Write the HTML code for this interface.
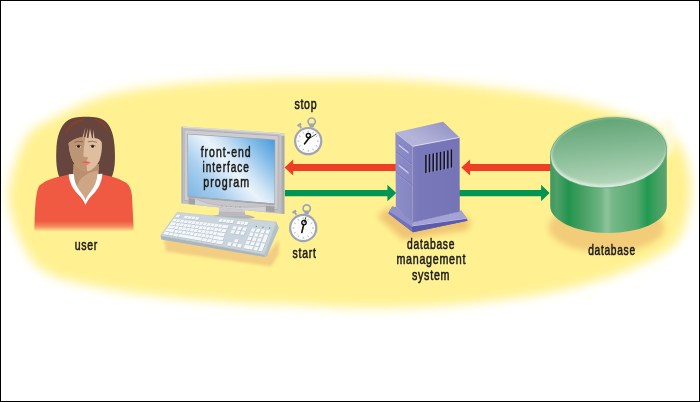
<!DOCTYPE html>
<html><head><meta charset="utf-8"><title>DBMS diagram</title>
<style>
html,body{margin:0;padding:0;background:#fff;}
body{width:700px;height:402px;overflow:hidden;}
svg{display:block;will-change:transform}
text{font-family:"Liberation Sans",sans-serif;fill:#1a1a1a;stroke:#1a1a1a;stroke-width:0.55px;}
</style></head><body>
<svg width="700" height="402" viewBox="0 0 700 402">
<defs>
<filter id="blurY" x="-10%" y="-20%" width="120%" height="140%"><feGaussianBlur stdDeviation="5.2"/></filter>
<filter id="blurS" x="-30%" y="-50%" width="160%" height="200%"><feGaussianBlur stdDeviation="3"/></filter>
<filter id="blur15" x="-20%" y="-50%" width="140%" height="200%"><feGaussianBlur stdDeviation="1.6"/></filter>
<filter id="blur07" x="-5%" y="-5%" width="110%" height="110%"><feGaussianBlur stdDeviation="0.8"/></filter>
<filter id="blur1" x="-20%" y="-20%" width="140%" height="140%"><feGaussianBlur stdDeviation="1"/></filter>
<linearGradient id="shirtFade" x1="0" y1="0" x2="0" y2="1" gradientUnits="objectBoundingBox">
 <stop offset="0" stop-color="#f05a42"/><stop offset="0.81" stop-color="#f05a42"/><stop offset="0.9" stop-color="#f28a5a"/><stop offset="0.97" stop-color="#fbd48a"/><stop offset="1" stop-color="#fff191" stop-opacity="0"/>
</linearGradient>
<linearGradient id="screenG" gradientUnits="userSpaceOnUse" x1="194.2" y1="201.5" x2="269.3" y2="135.1">
 <stop offset="0" stop-color="#80b8e5"/><stop offset="0.25" stop-color="#a8cfee"/><stop offset="0.4" stop-color="#d2e6f6"/><stop offset="0.5" stop-color="#eaf3fa"/><stop offset="0.6" stop-color="#d0e5f5"/><stop offset="0.8" stop-color="#8ac0e9"/><stop offset="1" stop-color="#4a9cdd"/>
</linearGradient>
<linearGradient id="frameG" x1="0" y1="0" x2="1" y2="0">
 <stop offset="0" stop-color="#a7a7a9"/><stop offset="0.5" stop-color="#c9c9cb"/><stop offset="1" stop-color="#b9b9bb"/>
</linearGradient>
<linearGradient id="cylSide" gradientUnits="userSpaceOnUse" x1="550" y1="0" x2="666" y2="0">
 <stop offset="0" stop-color="#3f995f"/><stop offset="0.06" stop-color="#4ea169"/><stop offset="0.16" stop-color="#22944e"/><stop offset="0.3" stop-color="#4aa266"/><stop offset="0.44" stop-color="#6fb585"/><stop offset="0.49" stop-color="#8ec49c"/><stop offset="0.54" stop-color="#74b888"/><stop offset="0.75" stop-color="#55a86f"/><stop offset="0.84" stop-color="#209a50"/><stop offset="0.93" stop-color="#46a064"/><stop offset="1" stop-color="#5aa471"/>
</linearGradient>
<linearGradient id="cylTop" gradientUnits="userSpaceOnUse" x1="0" y1="118" x2="0" y2="186">
 <stop offset="0" stop-color="#62a476"/><stop offset="0.5" stop-color="#88bd97"/><stop offset="1" stop-color="#b6d7bc"/>
</linearGradient>
<linearGradient id="srvTop" gradientUnits="userSpaceOnUse" x1="443" y1="122" x2="428" y2="146">
 <stop offset="0" stop-color="#9797c8"/><stop offset="1" stop-color="#b4b4da"/>
</linearGradient>
<linearGradient id="srvRight" gradientUnits="userSpaceOnUse" x1="412" y1="0" x2="460" y2="0">
 <stop offset="0" stop-color="#7e7ec0"/><stop offset="0.12" stop-color="#7878bb"/><stop offset="1" stop-color="#7474b6"/>
</linearGradient>
<linearGradient id="srvLeft" gradientUnits="userSpaceOnUse" x1="395" y1="0" x2="413" y2="0">
 <stop offset="0" stop-color="#8e8ec9"/><stop offset="1" stop-color="#8484c2"/>
</linearGradient>
<linearGradient id="neckG" x1="0" y1="0" x2="1" y2="0">
 <stop offset="0" stop-color="#c7c7c9"/><stop offset="0.5" stop-color="#dcdcde"/><stop offset="1" stop-color="#b5b5b7"/>
</linearGradient>
</defs>
<rect x="0" y="0" width="700" height="402" fill="#fff"/>
<path d="M8.5,196.0 C8.5,177.8 18.1,152.7 25.0,140.0 C31.9,127.3 37.5,127.1 50.0,120.0 C62.5,112.9 83.3,102.9 100.0,97.5 C116.7,92.1 133.3,90.0 150.0,87.5 C166.7,85.0 183.3,83.8 200.0,82.5 C216.7,81.2 233.3,80.6 250.0,80.0 C266.7,79.4 283.3,79.2 300.0,79.0 C316.7,78.8 333.3,78.3 350.0,78.5 C366.7,78.7 383.3,79.2 400.0,80.0 C416.7,80.8 433.3,82.0 450.0,83.5 C466.7,85.0 483.3,86.9 500.0,89.0 C516.7,91.1 533.3,92.9 550.0,96.0 C566.7,99.1 583.3,102.7 600.0,107.5 C616.7,112.3 636.7,118.8 650.0,125.0 C663.3,131.2 673.2,134.2 680.0,145.0 C686.8,155.8 691.0,174.7 691.0,190.0 C691.0,205.3 686.8,225.3 680.0,237.0 C673.2,248.7 663.3,252.8 650.0,260.0 C636.7,267.2 616.7,274.6 600.0,280.0 C583.3,285.4 566.7,289.2 550.0,292.5 C533.3,295.8 516.7,297.9 500.0,300.0 C483.3,302.1 466.7,303.8 450.0,305.0 C433.3,306.2 416.7,307.1 400.0,307.5 C383.3,307.9 366.7,307.9 350.0,307.5 C333.3,307.1 316.7,305.7 300.0,305.0 C283.3,304.3 266.7,304.3 250.0,303.5 C233.3,302.7 216.7,301.4 200.0,300.0 C183.3,298.6 166.7,297.1 150.0,295.0 C133.3,292.9 116.7,290.9 100.0,287.5 C83.3,284.1 62.5,280.8 50.0,274.5 C37.5,268.2 31.9,262.6 25.0,249.5 C18.1,236.4 8.5,214.2 8.5,196.0Z" fill="#fff191" filter="url(#blurY)"/>
<g filter="url(#blurS)" fill="#f1c877" opacity="0.9">


<ellipse cx="606.5" cy="227.5" rx="58" ry="25"/>
</g>
<g id="woman">
<path d="M60,178.5 C56.6,172 55.9,161 56.3,151 C56.6,137 60,125.5 68,120.2 C73,117.2 80,116.5 86,116.8 C92,116.5 99,117.2 104,120.2 C111.5,125.5 114.4,137 114.8,150 C115.4,162 114.6,172 111,178.5 Z" fill="#65453d"/>
<path d="M65.2,132.2 C67.6,124.6 74.5,119.8 83.5,119 L83.5,121.2 C76,122.2 70.2,126.4 67.2,133 Z" fill="#84402f"/>
<path d="M94.6,118.8 C101,119.6 106,123.6 107.8,129.8 L105.8,130.2 C104,125.2 100,122 94.6,121 Z" fill="#84402f"/>
<path d="M73.6,164 L73.6,173 L72.6,174.3 C73,181.5 75.4,187.8 79.2,192.3 C81.6,195.3 83.6,198 85.5,201.8 C87.4,198 89.4,195.3 91.8,192.3 C95.6,187.8 98,181.5 98.6,174.3 L98.4,164 Z" fill="#cfa685"/>
<path d="M73.6,164 L98.6,164 L99,170.5 C93,171 86.5,173.5 81.5,178 C78.5,181 77,185 76.5,189.5 L72.4,180 Z" fill="#b98f6e"/>
<path d="M68.6,143.2 C69.4,152 71,160 76.4,166 C80,169.6 84,171.2 87.2,171.2 C92,170.6 96,167 99.6,160.2 C101.7,153 102.3,148 101.8,142.4 C100.5,140 98.5,138.6 96,138.3 L81,137.4 C76,138 71,140.6 68.6,143.2 Z" fill="#dfbd9f"/>
<path d="M68.6,143.2 C69.4,152 71,160 76.4,166 C80,169.6 84,171.2 87.2,171.2 C86.6,167 86.4,163 86.6,160.4 L88.3,157.6 C86.5,157.2 84.8,157 83.4,156.6 C83.6,150 84.5,143 85.2,137.3 L81,137.4 C76,138 71,140.6 68.6,143.2 Z" fill="#bc9574"/>
<path d="M82,138.4 L85.5,127 L83.7,138.4 Z" fill="#c9a283"/><path d="M85,138.4 L88,128 L86.7,138.4 Z M88.4,138.4 L90,128.5 L92,138.4 Z M93,138.4 L93.1,129.5 L94.6,138.4 Z" fill="#e2c2a4"/>
<ellipse cx="78.4" cy="146.5" rx="2.9" ry="1.25" fill="#dcc3b0"/>
<ellipse cx="92.6" cy="146.5" rx="2.9" ry="1.25" fill="#ecd8c6"/>
<circle cx="78.5" cy="146.4" r="1.45" fill="#241614"/>
<circle cx="92.6" cy="146.4" r="1.45" fill="#241614"/>
<path d="M75.4,146.2 Q78.4,144.1 81.4,145.9" stroke="#5a3a2e" stroke-width="0.6" fill="none"/>
<path d="M89.6,145.9 Q92.6,144.1 95.7,146.2" stroke="#5a3a2e" stroke-width="0.6" fill="none"/>
<path d="M74.4,142.4 Q78.6,140.4 83,141.8" stroke="#7a5444" stroke-width="0.7" fill="none"/>
<path d="M87.8,141.8 Q92.5,140.4 97,142.4" stroke="#7a5444" stroke-width="0.7" fill="none"/>
<path d="M81.3,162.6 Q83.5,161 86,161.6 Q88.5,161 90.9,162.6 Q86,163.4 81.3,162.6 Z" fill="#d45c4a"/>
<path d="M81.3,162.6 Q86,163.4 90.9,162.6 Q88,165.4 86,165.3 Q83.6,165.3 81.3,162.6 Z" fill="#ea8272"/>
<path d="M46,181 C55,177 63,176 69.8,174.5 L85.5,204.6 L102,174.5 C110,176 118,178 124.7,182 C129,184 131,188 132,196 L133.8,232 L34.2,232 L35,210 C36,196 37,188 40,185 Z" fill="url(#shirtFade)"/>
<path d="M68.6,174.6 C70,174 72,173.9 73.8,174.3 C74.2,181 76.5,187 80.2,191.4 C82.6,194.4 84.5,197 85.5,200.2 C86.5,197 88.4,194.4 90.8,191.4 C94.5,187 97,181 97.4,174.3 C99,173.8 100.6,173.6 102.4,173.8 C101.8,182 98.5,189 92.8,194.6 C89.8,197.6 87.2,200.6 85.5,204.8 C83.8,200.6 81.2,197.6 78.2,194.6 C72.5,189 69.3,182 68.6,174.6 Z" fill="#ffffff"/>
</g>
<text x="86.4" y="250.4" font-size="14.6" text-anchor="middle" textLength="23.4" lengthAdjust="spacingAndGlyphs" letter-spacing="1">user</text>
<g id="monitor">
<path d="M209,217.5 C212,214.5 224,214.2 232,214.2 C242,214.2 252,214.6 255,217.8 C252,219.5 212,219.5 209,217.5 Z" fill="#b3b3b7"/>
<path d="M219.2,206.5 L244.6,207.2 L245.2,215.8 L218.8,215.2 Z" fill="#cbcbcf"/>
<path d="M218.9,211.5 L245,212.3 L245.2,215.8 L218.8,215.2 Z" fill="#b9b9bd"/>
<path d="M280.6,132.9 L284.4,133.5 L284.3,214.0 L280.1,213.8 Z" fill="#b6b6ba"/>
<path d="M280.6,132.9 L284.4,133.5 L283.6,136 L280.6,135.5 Z" fill="#d6d6da"/>
<path d="M282.4,136 L284.4,136 L284.3,214.0 L282.4,213.9 Z" fill="#a9a9ad"/>
<path d="M181.60,126.40 L280.60,132.90 L280.10,213.80 L181.60,203.60Z" fill="#c0c0c4"/>
<path d="M181.6,126.4 L280.6,132.9 L280.2,134.2 L182.2,127.8 Z" fill="#dcdce0"/>
<path d="M181.6,126.4 L182.6,127.2 L182.6,203.2 L181.6,203.5 Z" fill="#a6a6aa"/>
<path d="M184.29,129.84 L278.08,135.97 L277.71,209.52 L184.37,200.41Z" fill="none" stroke="#a8a8ac" stroke-width="0.7"/>
<path d="M184.61,130.25 L277.78,136.33 L277.42,209.01 L184.70,200.03Z" fill="#cdcdd1"/>
<path d="M187.36,133.78 L275.20,139.47 L274.97,204.62 L187.54,196.76Z" fill="#a2a2a6"/>
<path d="M188.00,134.60 L274.60,140.20 L274.40,203.60 L188.20,196.00Z" fill="url(#screenG)"/>
<path d="M188.2,196.0 L274.4,203.6 L274.5,205.4 L188.3,197.8 Z" fill="#a7a7ab"/>
<path d="M188.3,197.8 L274.5,205.4 L274.8,212.8 L265.8,212.2 L188.4,204.3 Z" fill="#c6c6ca"/>
<path d="M195,198.6 C210,205.8 232,208.6 265.8,206.4 L265.8,211.6 L195,204.6 Z" fill="#d2d2d6"/>
<path d="M195,198.6 C210,205.8 232,208.6 265.8,206.4" fill="none" stroke="#b0b0b4" stroke-width="0.6"/>
<path d="M188.6,198.2 L195,198.8 L195,204.6 L188.6,204.1 Z" fill="#a2a2a6"/>
<path d="M265.8,205.7 L274.6,206.4 L274.7,212.3 L265.8,211.6 Z" fill="#a2a2a6"/>
<g fill="#9a9a9e"><circle cx="222" cy="205.9" r="0.55"/><circle cx="226.5" cy="206.2" r="0.55"/><circle cx="231" cy="206.5" r="0.55"/><circle cx="235.5" cy="206.7" r="0.55"/><circle cx="240" cy="206.9" r="0.55"/></g>
</g>
<text x="226.2" y="157.3" font-size="14.6" text-anchor="middle" textLength="51" lengthAdjust="spacingAndGlyphs" letter-spacing="1.4">front-end</text>
<text x="226.2" y="172.2" font-size="14.6" text-anchor="middle" textLength="47.4" lengthAdjust="spacingAndGlyphs" letter-spacing="1.4">interface</text>
<text x="226.7" y="186.9" font-size="14.6" text-anchor="middle" textLength="47" lengthAdjust="spacingAndGlyphs" letter-spacing="1.4">program</text>
<g id="keyboard">
<path d="M164,238 L268,253 L279,240 L279,254 L271,266.5 L166,251.5 Z" fill="#f2cd82" filter="url(#blur15)"/>
<path d="M160.60,235.60 L264.40,254.40 L265.00,257.00 L161.20,239.40Z" fill="#a9b5bf"/>
<path d="M276.40,221.90 L278.90,228.10 L266.60,256.90 L264.40,254.40Z" fill="#b4c0ca"/>
<path d="M177.00,212.40 L276.40,221.90 L264.40,254.40 L160.60,235.60Z" fill="#c9d4dd" stroke="#b7c3cd" stroke-width="0.5" stroke-linejoin="round"/>
<path d="M176.97,214.64 L180.46,215.00 L178.74,217.52 L175.23,217.13Z M184.99,215.73 L188.29,216.07 L186.60,218.67 L183.29,218.30Z M188.76,216.12 L192.05,216.46 L190.38,219.10 L187.07,218.73Z M192.52,216.51 L195.82,216.86 L194.16,219.54 L190.85,219.16Z M196.29,216.91 L199.58,217.25 L197.95,219.97 L194.64,219.59Z M219.73,218.78 L223.02,219.12 L221.49,222.06 L218.19,221.69Z M223.49,219.16 L226.78,219.50 L225.27,222.49 L221.96,222.11Z M227.25,219.55 L230.54,219.89 L229.05,222.91 L225.74,222.54Z M231.01,219.94 L234.30,220.28 L232.83,223.33 L229.52,222.96Z M237.75,220.93 L241.04,221.27 L239.60,224.40 L236.29,224.03Z M241.51,221.32 L244.80,221.66 L243.38,224.83 L240.07,224.45Z M245.27,221.71 L248.56,222.05 L247.16,225.25 L243.85,224.88Z M173.73,218.80 L177.05,219.20 L175.21,221.87 L171.88,221.44Z M177.52,219.25 L180.84,219.65 L179.02,222.37 L175.69,221.94Z M181.31,219.71 L184.63,220.10 L182.83,222.86 L179.50,222.43Z M185.11,220.16 L188.42,220.56 L186.64,223.35 L183.31,222.92Z M188.90,220.61 L192.22,221.01 L190.46,223.84 L187.12,223.41Z M192.69,221.07 L196.01,221.46 L194.27,224.34 L190.93,223.91Z M196.48,221.52 L199.80,221.92 L198.08,224.83 L194.74,224.40Z M200.27,221.97 L203.59,222.37 L201.89,225.32 L198.55,224.89Z M204.07,222.42 L207.39,222.82 L205.70,225.82 L202.36,225.38Z M207.86,222.88 L211.18,223.27 L209.51,226.31 L206.17,225.88Z M211.65,223.33 L214.97,223.73 L213.32,226.80 L209.99,226.37Z M215.44,223.78 L218.76,224.18 L217.13,227.29 L213.80,226.86Z M219.23,224.24 L222.55,224.63 L220.94,227.79 L217.61,227.35Z M223.03,224.69 L228.96,225.40 L227.38,228.62 L221.42,227.85Z M171.49,221.99 L176.55,222.65 L174.73,225.35 L169.64,224.63Z M177.06,222.72 L180.40,223.16 L178.59,225.89 L175.23,225.42Z M180.87,223.22 L184.21,223.66 L182.42,226.43 L179.07,225.96Z M184.69,223.72 L188.03,224.16 L186.26,226.97 L182.90,226.50Z M188.50,224.22 L191.84,224.66 L190.09,227.51 L186.74,227.04Z M192.32,224.72 L195.66,225.16 L193.92,228.05 L190.57,227.58Z M196.13,225.22 L199.47,225.66 L197.76,228.59 L194.40,228.12Z M199.95,225.72 L203.29,226.16 L201.59,229.13 L198.24,228.66Z M203.76,226.22 L207.10,226.66 L205.43,229.67 L202.07,229.20Z M207.58,226.72 L210.92,227.16 L209.26,230.21 L205.90,229.74Z M211.39,227.22 L214.73,227.66 L213.09,230.75 L209.74,230.28Z M215.21,227.73 L218.55,228.16 L216.93,231.30 L213.57,230.82Z M219.02,228.23 L222.36,228.66 L220.76,231.84 L217.40,231.36Z M222.84,228.73 L227.09,229.28 L225.51,232.51 L221.24,231.90Z M169.26,225.17 L175.27,226.03 L173.44,228.73 L167.41,227.81Z M175.77,226.10 L179.13,226.58 L177.33,229.33 L173.95,228.81Z M179.61,226.65 L182.97,227.13 L181.19,229.92 L177.81,229.40Z M183.45,227.20 L186.81,227.68 L185.04,230.50 L181.67,229.99Z M187.29,227.75 L190.65,228.23 L188.90,231.09 L185.52,230.58Z M191.12,228.30 L194.48,228.78 L192.75,231.68 L189.38,231.17Z M194.96,228.85 L198.32,229.33 L196.61,232.27 L193.24,231.75Z M198.80,229.40 L202.16,229.88 L200.47,232.86 L197.09,232.34Z M202.64,229.94 L206.00,230.42 L204.32,233.45 L200.95,232.93Z M206.47,230.49 L209.83,230.97 L208.18,234.04 L204.80,233.52Z M210.31,231.04 L213.67,231.52 L212.04,234.62 L208.66,234.11Z M214.15,231.59 L217.51,232.07 L215.89,235.21 L212.52,234.70Z M217.99,232.14 L225.32,233.19 L223.74,236.41 L216.37,235.29Z M167.03,228.36 L175.01,229.59 L173.20,232.32 L165.17,231.00Z M175.52,229.67 L178.90,230.19 L177.11,232.96 L173.71,232.40Z M179.38,230.27 L182.76,230.79 L180.99,233.59 L177.59,233.04Z M183.24,230.86 L186.62,231.39 L184.87,234.23 L181.47,233.67Z M187.10,231.46 L190.48,231.98 L188.74,234.87 L185.35,234.31Z M190.96,232.06 L194.34,232.58 L192.62,235.50 L189.23,234.95Z M194.82,232.65 L198.20,233.18 L196.50,236.14 L193.11,235.58Z M198.69,233.25 L202.06,233.77 L200.38,236.78 L196.99,236.22Z M202.55,233.85 L205.92,234.37 L204.26,237.41 L200.87,236.85Z M206.41,234.44 L209.78,234.97 L208.14,238.05 L204.74,237.49Z M210.27,235.04 L213.64,235.56 L212.02,238.68 L208.62,238.13Z M214.13,235.64 L224.16,237.19 L222.59,240.42 L212.50,238.76Z M164.79,231.54 L169.43,232.31 L167.60,235.00 L162.94,234.18Z M169.94,232.40 L173.96,233.06 L172.15,235.80 L168.11,235.09Z M174.47,233.15 L179.11,233.92 L177.32,236.71 L172.67,235.89Z M179.62,234.00 L202.59,237.82 L200.92,240.85 L177.84,236.80Z M203.10,237.90 L207.74,238.67 L206.09,241.75 L201.44,240.94Z M208.25,238.76 L212.27,239.42 L210.65,242.55 L206.61,241.84Z M212.79,239.51 L216.80,240.18 L215.20,243.35 L211.17,242.64Z M217.32,240.26 L223.70,241.32 L222.14,244.57 L215.72,243.44Z M233.68,225.96 L237.20,226.38 L235.66,229.69 L232.12,229.23Z M238.61,226.55 L242.13,226.97 L240.61,230.33 L237.08,229.87Z M243.54,227.14 L247.06,227.56 L245.57,230.97 L242.03,230.51Z M231.80,229.90 L235.34,230.37 L233.81,233.67 L230.25,233.17Z M236.76,230.55 L240.30,231.02 L238.79,234.38 L235.23,233.88Z M241.72,231.21 L245.26,231.67 L243.77,235.08 L240.21,234.58Z M235.42,238.93 L238.80,239.45 L237.30,242.83 L233.90,242.27Z M228.44,242.11 L232.05,242.71 L230.52,246.04 L226.90,245.40Z M233.49,242.95 L237.09,243.54 L235.59,246.93 L231.97,246.29Z M238.53,243.78 L242.14,244.38 L240.66,247.81 L237.04,247.18Z M252.09,228.16 L255.61,228.58 L254.16,232.08 L250.62,231.62Z M256.92,228.74 L260.44,229.16 L259.01,232.71 L255.47,232.25Z M261.74,229.31 L265.26,229.73 L263.86,233.33 L260.33,232.88Z M266.57,229.89 L270.09,230.31 L268.72,233.96 L265.18,233.50Z M250.32,232.33 L253.86,232.80 L252.42,236.30 L248.86,235.80Z M255.18,232.97 L258.72,233.44 L257.30,236.99 L253.74,236.48Z M260.04,233.61 L263.58,234.07 L262.18,237.67 L258.62,237.17Z M248.55,236.51 L252.12,237.02 L250.67,240.52 L247.09,239.97Z M253.44,237.21 L257.00,237.72 L255.58,241.27 L252.00,240.72Z M258.33,237.91 L261.89,238.42 L260.49,242.02 L256.91,241.47Z M264.89,234.25 L268.43,234.71 L265.40,242.77 L261.82,242.22Z M246.79,240.68 L250.37,241.24 L248.93,244.74 L245.32,244.15Z M251.70,241.44 L255.29,242.00 L253.86,245.55 L250.26,244.96Z M256.62,242.20 L260.20,242.76 L258.80,246.36 L255.20,245.77Z M245.02,244.86 L253.57,246.28 L252.15,249.83 L243.56,248.32Z M254.91,246.50 L258.52,247.10 L257.12,250.70 L253.49,250.07Z M261.53,242.96 L265.12,243.52 L262.08,251.57 L258.46,250.94Z" fill="#a7b4bf" transform="translate(0.2,0.5)"/>
<path d="M176.97,214.64 L180.46,215.00 L178.74,217.52 L175.23,217.13Z M184.99,215.73 L188.29,216.07 L186.60,218.67 L183.29,218.30Z M188.76,216.12 L192.05,216.46 L190.38,219.10 L187.07,218.73Z M192.52,216.51 L195.82,216.86 L194.16,219.54 L190.85,219.16Z M196.29,216.91 L199.58,217.25 L197.95,219.97 L194.64,219.59Z M219.73,218.78 L223.02,219.12 L221.49,222.06 L218.19,221.69Z M223.49,219.16 L226.78,219.50 L225.27,222.49 L221.96,222.11Z M227.25,219.55 L230.54,219.89 L229.05,222.91 L225.74,222.54Z M231.01,219.94 L234.30,220.28 L232.83,223.33 L229.52,222.96Z M237.75,220.93 L241.04,221.27 L239.60,224.40 L236.29,224.03Z M241.51,221.32 L244.80,221.66 L243.38,224.83 L240.07,224.45Z M245.27,221.71 L248.56,222.05 L247.16,225.25 L243.85,224.88Z M173.73,218.80 L177.05,219.20 L175.21,221.87 L171.88,221.44Z M177.52,219.25 L180.84,219.65 L179.02,222.37 L175.69,221.94Z M181.31,219.71 L184.63,220.10 L182.83,222.86 L179.50,222.43Z M185.11,220.16 L188.42,220.56 L186.64,223.35 L183.31,222.92Z M188.90,220.61 L192.22,221.01 L190.46,223.84 L187.12,223.41Z M192.69,221.07 L196.01,221.46 L194.27,224.34 L190.93,223.91Z M196.48,221.52 L199.80,221.92 L198.08,224.83 L194.74,224.40Z M200.27,221.97 L203.59,222.37 L201.89,225.32 L198.55,224.89Z M204.07,222.42 L207.39,222.82 L205.70,225.82 L202.36,225.38Z M207.86,222.88 L211.18,223.27 L209.51,226.31 L206.17,225.88Z M211.65,223.33 L214.97,223.73 L213.32,226.80 L209.99,226.37Z M215.44,223.78 L218.76,224.18 L217.13,227.29 L213.80,226.86Z M219.23,224.24 L222.55,224.63 L220.94,227.79 L217.61,227.35Z M223.03,224.69 L228.96,225.40 L227.38,228.62 L221.42,227.85Z M171.49,221.99 L176.55,222.65 L174.73,225.35 L169.64,224.63Z M177.06,222.72 L180.40,223.16 L178.59,225.89 L175.23,225.42Z M180.87,223.22 L184.21,223.66 L182.42,226.43 L179.07,225.96Z M184.69,223.72 L188.03,224.16 L186.26,226.97 L182.90,226.50Z M188.50,224.22 L191.84,224.66 L190.09,227.51 L186.74,227.04Z M192.32,224.72 L195.66,225.16 L193.92,228.05 L190.57,227.58Z M196.13,225.22 L199.47,225.66 L197.76,228.59 L194.40,228.12Z M199.95,225.72 L203.29,226.16 L201.59,229.13 L198.24,228.66Z M203.76,226.22 L207.10,226.66 L205.43,229.67 L202.07,229.20Z M207.58,226.72 L210.92,227.16 L209.26,230.21 L205.90,229.74Z M211.39,227.22 L214.73,227.66 L213.09,230.75 L209.74,230.28Z M215.21,227.73 L218.55,228.16 L216.93,231.30 L213.57,230.82Z M219.02,228.23 L222.36,228.66 L220.76,231.84 L217.40,231.36Z M222.84,228.73 L227.09,229.28 L225.51,232.51 L221.24,231.90Z M169.26,225.17 L175.27,226.03 L173.44,228.73 L167.41,227.81Z M175.77,226.10 L179.13,226.58 L177.33,229.33 L173.95,228.81Z M179.61,226.65 L182.97,227.13 L181.19,229.92 L177.81,229.40Z M183.45,227.20 L186.81,227.68 L185.04,230.50 L181.67,229.99Z M187.29,227.75 L190.65,228.23 L188.90,231.09 L185.52,230.58Z M191.12,228.30 L194.48,228.78 L192.75,231.68 L189.38,231.17Z M194.96,228.85 L198.32,229.33 L196.61,232.27 L193.24,231.75Z M198.80,229.40 L202.16,229.88 L200.47,232.86 L197.09,232.34Z M202.64,229.94 L206.00,230.42 L204.32,233.45 L200.95,232.93Z M206.47,230.49 L209.83,230.97 L208.18,234.04 L204.80,233.52Z M210.31,231.04 L213.67,231.52 L212.04,234.62 L208.66,234.11Z M214.15,231.59 L217.51,232.07 L215.89,235.21 L212.52,234.70Z M217.99,232.14 L225.32,233.19 L223.74,236.41 L216.37,235.29Z M167.03,228.36 L175.01,229.59 L173.20,232.32 L165.17,231.00Z M175.52,229.67 L178.90,230.19 L177.11,232.96 L173.71,232.40Z M179.38,230.27 L182.76,230.79 L180.99,233.59 L177.59,233.04Z M183.24,230.86 L186.62,231.39 L184.87,234.23 L181.47,233.67Z M187.10,231.46 L190.48,231.98 L188.74,234.87 L185.35,234.31Z M190.96,232.06 L194.34,232.58 L192.62,235.50 L189.23,234.95Z M194.82,232.65 L198.20,233.18 L196.50,236.14 L193.11,235.58Z M198.69,233.25 L202.06,233.77 L200.38,236.78 L196.99,236.22Z M202.55,233.85 L205.92,234.37 L204.26,237.41 L200.87,236.85Z M206.41,234.44 L209.78,234.97 L208.14,238.05 L204.74,237.49Z M210.27,235.04 L213.64,235.56 L212.02,238.68 L208.62,238.13Z M214.13,235.64 L224.16,237.19 L222.59,240.42 L212.50,238.76Z M164.79,231.54 L169.43,232.31 L167.60,235.00 L162.94,234.18Z M169.94,232.40 L173.96,233.06 L172.15,235.80 L168.11,235.09Z M174.47,233.15 L179.11,233.92 L177.32,236.71 L172.67,235.89Z M179.62,234.00 L202.59,237.82 L200.92,240.85 L177.84,236.80Z M203.10,237.90 L207.74,238.67 L206.09,241.75 L201.44,240.94Z M208.25,238.76 L212.27,239.42 L210.65,242.55 L206.61,241.84Z M212.79,239.51 L216.80,240.18 L215.20,243.35 L211.17,242.64Z M217.32,240.26 L223.70,241.32 L222.14,244.57 L215.72,243.44Z M233.68,225.96 L237.20,226.38 L235.66,229.69 L232.12,229.23Z M238.61,226.55 L242.13,226.97 L240.61,230.33 L237.08,229.87Z M243.54,227.14 L247.06,227.56 L245.57,230.97 L242.03,230.51Z M231.80,229.90 L235.34,230.37 L233.81,233.67 L230.25,233.17Z M236.76,230.55 L240.30,231.02 L238.79,234.38 L235.23,233.88Z M241.72,231.21 L245.26,231.67 L243.77,235.08 L240.21,234.58Z M235.42,238.93 L238.80,239.45 L237.30,242.83 L233.90,242.27Z M228.44,242.11 L232.05,242.71 L230.52,246.04 L226.90,245.40Z M233.49,242.95 L237.09,243.54 L235.59,246.93 L231.97,246.29Z M238.53,243.78 L242.14,244.38 L240.66,247.81 L237.04,247.18Z M252.09,228.16 L255.61,228.58 L254.16,232.08 L250.62,231.62Z M256.92,228.74 L260.44,229.16 L259.01,232.71 L255.47,232.25Z M261.74,229.31 L265.26,229.73 L263.86,233.33 L260.33,232.88Z M266.57,229.89 L270.09,230.31 L268.72,233.96 L265.18,233.50Z M250.32,232.33 L253.86,232.80 L252.42,236.30 L248.86,235.80Z M255.18,232.97 L258.72,233.44 L257.30,236.99 L253.74,236.48Z M260.04,233.61 L263.58,234.07 L262.18,237.67 L258.62,237.17Z M248.55,236.51 L252.12,237.02 L250.67,240.52 L247.09,239.97Z M253.44,237.21 L257.00,237.72 L255.58,241.27 L252.00,240.72Z M258.33,237.91 L261.89,238.42 L260.49,242.02 L256.91,241.47Z M264.89,234.25 L268.43,234.71 L265.40,242.77 L261.82,242.22Z M246.79,240.68 L250.37,241.24 L248.93,244.74 L245.32,244.15Z M251.70,241.44 L255.29,242.00 L253.86,245.55 L250.26,244.96Z M256.62,242.20 L260.20,242.76 L258.80,246.36 L255.20,245.77Z M245.02,244.86 L253.57,246.28 L252.15,249.83 L243.56,248.32Z M254.91,246.50 L258.52,247.10 L257.12,250.70 L253.49,250.07Z M261.53,242.96 L265.12,243.52 L262.08,251.57 L258.46,250.94Z" fill="#f4f7f9"/>
<circle cx="256.3" cy="226.4" r="0.6" fill="#2a9a4a"/>
<circle cx="263.0" cy="227.2" r="0.6" fill="#2a9a4a"/>
<circle cx="269.7" cy="227.9" r="0.6" fill="#2a9a4a"/>
</g>
<g id="arrows">
<path d="M284.5,167.5 L293.2,159.4 L293.2,164.0 L398,164.0 L398,170.9 L293.2,170.9 L293.2,175.6 Z" fill="#ee3f26"/>
<path d="M284.9,189.9 L387.4,189.9 L387.4,184.7 L396.3,193.0 L387.4,201.3 L387.4,196.2 L284.9,196.2 Z" fill="#009455"/>
<path d="M461.3,167.5 L470.1,159.4 L470.1,164.0 L551,164.0 L551,170.9 L470.1,170.9 L470.1,175.6 Z" fill="#ee3f26"/>
<path d="M459,189.9 L541.1,189.9 L541.1,184.8 L549.6,193.0 L541.1,201.2 L541.1,196.2 L459,196.2 Z" fill="#009455"/>
</g>
<g>
<rect x="309.5" y="123.5" width="4.4" height="4" rx="0.8" fill="#9ea5b3"/>
<circle cx="311.7" cy="121.6" r="3.6" fill="none" stroke="#9ea5b3" stroke-width="1.7"/>
<g transform="rotate(-32 299.4 124.9)"><rect x="297.2" y="123.7" width="4.4" height="2.2" rx="0.4" fill="#9ea5b3"/><rect x="298.5" y="125.5" width="1.8" height="3" fill="#9ea5b3"/></g>
<circle cx="308.2" cy="141.1" r="14.2" fill="#9ea5b3"/>
<circle cx="308.2" cy="141.1" r="12.0" fill="#fcfcfc"/>
<line x1="308.20" y1="130.50" x2="308.20" y2="132.30" stroke="#adb3be" stroke-width="1.0"/>
<line x1="313.50" y1="131.92" x2="312.60" y2="133.48" stroke="#adb3be" stroke-width="1.0"/>
<line x1="317.38" y1="135.80" x2="315.82" y2="136.70" stroke="#adb3be" stroke-width="1.0"/>
<line x1="318.80" y1="141.10" x2="317.00" y2="141.10" stroke="#adb3be" stroke-width="1.0"/>
<line x1="317.38" y1="146.40" x2="315.82" y2="145.50" stroke="#adb3be" stroke-width="1.0"/>
<line x1="313.50" y1="150.28" x2="312.60" y2="148.72" stroke="#adb3be" stroke-width="1.0"/>
<line x1="308.20" y1="151.70" x2="308.20" y2="149.90" stroke="#adb3be" stroke-width="1.0"/>
<line x1="302.90" y1="150.28" x2="303.80" y2="148.72" stroke="#adb3be" stroke-width="1.0"/>
<line x1="299.02" y1="146.40" x2="300.58" y2="145.50" stroke="#adb3be" stroke-width="1.0"/>
<line x1="297.60" y1="141.10" x2="299.40" y2="141.10" stroke="#adb3be" stroke-width="1.0"/>
<line x1="299.02" y1="135.80" x2="300.58" y2="136.70" stroke="#adb3be" stroke-width="1.0"/>
<line x1="302.90" y1="131.92" x2="303.80" y2="133.48" stroke="#adb3be" stroke-width="1.0"/>
<g stroke="#111" fill="none" stroke-linecap="round">
<line x1="304.6" y1="143.8" x2="309.6" y2="137.2" stroke-width="1.6"/>
<line x1="309.6" y1="138.3" x2="316" y2="134.2" stroke-width="0.8"/>
<circle cx="308.4" cy="135.6" r="2.1" stroke-width="1.4"/>
</g>
</g>
<g>
<rect x="304.5" y="210.4" width="4.4" height="4" rx="0.8" fill="#9ea5b3"/>
<circle cx="306.7" cy="208.5" r="3.6" fill="none" stroke="#9ea5b3" stroke-width="1.7"/>
<g transform="rotate(-32 294.4 211.8)"><rect x="292.2" y="210.6" width="4.4" height="2.2" rx="0.4" fill="#9ea5b3"/><rect x="293.5" y="212.4" width="1.8" height="3" fill="#9ea5b3"/></g>
<circle cx="303.2" cy="228.0" r="14.2" fill="#9ea5b3"/>
<circle cx="303.2" cy="228.0" r="12.0" fill="#fcfcfc"/>
<line x1="303.20" y1="217.40" x2="303.20" y2="219.20" stroke="#adb3be" stroke-width="1.0"/>
<line x1="308.50" y1="218.82" x2="307.60" y2="220.38" stroke="#adb3be" stroke-width="1.0"/>
<line x1="312.38" y1="222.70" x2="310.82" y2="223.60" stroke="#adb3be" stroke-width="1.0"/>
<line x1="313.80" y1="228.00" x2="312.00" y2="228.00" stroke="#adb3be" stroke-width="1.0"/>
<line x1="312.38" y1="233.30" x2="310.82" y2="232.40" stroke="#adb3be" stroke-width="1.0"/>
<line x1="308.50" y1="237.18" x2="307.60" y2="235.62" stroke="#adb3be" stroke-width="1.0"/>
<line x1="303.20" y1="238.60" x2="303.20" y2="236.80" stroke="#adb3be" stroke-width="1.0"/>
<line x1="297.90" y1="237.18" x2="298.80" y2="235.62" stroke="#adb3be" stroke-width="1.0"/>
<line x1="294.02" y1="233.30" x2="295.58" y2="232.40" stroke="#adb3be" stroke-width="1.0"/>
<line x1="292.60" y1="228.00" x2="294.40" y2="228.00" stroke="#adb3be" stroke-width="1.0"/>
<line x1="294.02" y1="222.70" x2="295.58" y2="223.60" stroke="#adb3be" stroke-width="1.0"/>
<line x1="297.90" y1="218.82" x2="298.80" y2="220.38" stroke="#adb3be" stroke-width="1.0"/>
<g stroke="#111" fill="none" stroke-linecap="round">
<line x1="301.8" y1="232.5" x2="303.7" y2="224.6" stroke-width="1.6"/>
<line x1="304.2" y1="222.5" x2="305.8" y2="217.4" stroke-width="0.8"/>
<circle cx="304" cy="222.6" r="2.2" stroke-width="1.4"/>
</g>
</g>
<text x="305.9" y="109.2" font-size="14" text-anchor="middle" textLength="23" lengthAdjust="spacingAndGlyphs" letter-spacing="1">stop</text>
<text x="304.6" y="257.9" font-size="14" text-anchor="middle" textLength="24" lengthAdjust="spacingAndGlyphs" letter-spacing="1">start</text>
<g id="server">
<path d="M390,207 L377,216 L403,240 L468,230 L471,220 L458,212 L412,222 Z" fill="#efc472" filter="url(#blurS)"/>
<path d="M392.3,206.5 L389.1,211.7 L388.5,213.4 L412.9,232.3 L467.5,220.8 L466.9,218.8 L461,210.4 L459.8,211.5 L412.3,222.6 L395.8,207.2 Z" fill="#6a6ab4"/>
<path d="M392.3,206.5 L395.8,207.2 L412.3,222.6 L411.6,226.5 L389.1,211.7 Z" fill="#8f8fcc"/>
<path d="M412.3,222.6 L459.8,211.5 L461,210.4 L466.9,218.8 L411.6,226.5 Z" fill="#a3a3d8"/>
<path d="M411.6,226.5 L466.9,218.8" stroke="#d8d8f2" stroke-width="0.8"/>
<path d="M389.1,211.7 L411.6,226.5 L412.9,232.3 L388.5,213.4 Z" fill="#7272ba"/>
<path d="M411.6,226.5 L466.9,218.8 L467.5,220.8 L412.9,232.3 Z" fill="#5b5bab"/>
<path d="M412.6,146.3 L459.6,137.4 L459.8,211.5 L412.3,222.6 Z" fill="url(#srvRight)"/>
<path d="M395.4,132.6 L412.6,146.3 L412.3,222.6 L395.8,207.2 Z" fill="url(#srvLeft)"/>
<path d="M395.4,132.6 L443.2,121.7 L459.6,137.4 L412.6,146.3 Z" fill="url(#srvTop)"/>
<path d="M412.6,146.3 L459.6,137.4" stroke="#dcdcf4" stroke-width="0.9"/>
<path d="M395.4,132.6 L412.6,146.3" stroke="#c4c4ea" stroke-width="0.6"/>
<path d="M396,151.9 L412.4,164.6" stroke="#6c6cb0" stroke-width="0.7"/>
<path d="M396,152.7 L412.4,165.4" stroke="#a8a8dc" stroke-width="0.5"/>
<path d="M396,172.2 L412.4,185.4" stroke="#6c6cb0" stroke-width="0.7"/>
<path d="M396,173 L412.4,186.2" stroke="#a8a8dc" stroke-width="0.5"/>
<path d="M398.6,142.8 L408.6,150.8 L408.6,154.0 L398.6,146.0 Z" fill="#a4a4d8"/><path d="M398.6,142.8 L408.6,150.8" stroke="#6e6eb2" stroke-width="0.7"/><path d="M398.8,145.2 L408.4,152.9" stroke="#dadaf4" stroke-width="0.9"/>
<path d="M398.6,163.0 L408.6,171.0 L408.6,174.2 L398.6,166.2 Z" fill="#a4a4d8"/><path d="M398.6,163.0 L408.6,171.0" stroke="#6e6eb2" stroke-width="0.7"/><path d="M398.8,165.4 L408.4,173.1" stroke="#dadaf4" stroke-width="0.9"/>
<path d="M427.00,155.40 L427.00,173.80" stroke="#aaaadc" stroke-width="0.6"/>
<path d="M425.90,155.60 L425.90,172.60" stroke="#141420" stroke-width="1.5" stroke-linecap="round"/>
<path d="M430.66,154.61 L430.66,173.01" stroke="#aaaadc" stroke-width="0.6"/>
<path d="M429.56,154.81 L429.56,171.81" stroke="#141420" stroke-width="1.5" stroke-linecap="round"/>
<path d="M434.32,153.83 L434.32,172.23" stroke="#aaaadc" stroke-width="0.6"/>
<path d="M433.22,154.03 L433.22,171.03" stroke="#141420" stroke-width="1.5" stroke-linecap="round"/>
<path d="M437.98,153.04 L437.98,171.44" stroke="#aaaadc" stroke-width="0.6"/>
<path d="M436.88,153.24 L436.88,170.24" stroke="#141420" stroke-width="1.5" stroke-linecap="round"/>
<path d="M441.64,152.26 L441.64,170.66" stroke="#aaaadc" stroke-width="0.6"/>
<path d="M440.54,152.46 L440.54,169.46" stroke="#141420" stroke-width="1.5" stroke-linecap="round"/>
<path d="M445.30,151.47 L445.30,169.87" stroke="#aaaadc" stroke-width="0.6"/>
<path d="M444.20,151.67 L444.20,168.67" stroke="#141420" stroke-width="1.5" stroke-linecap="round"/>
<path d="M448.96,150.69 L448.96,169.09" stroke="#aaaadc" stroke-width="0.6"/>
<path d="M447.86,150.89 L447.86,167.89" stroke="#141420" stroke-width="1.5" stroke-linecap="round"/>
<path d="M452.62,149.90 L452.62,168.30" stroke="#aaaadc" stroke-width="0.6"/>
<path d="M451.52,150.10 L451.52,167.10" stroke="#141420" stroke-width="1.5" stroke-linecap="round"/>
</g>
<text x="431.1" y="248.9" font-size="14.5" text-anchor="middle" textLength="48" lengthAdjust="spacingAndGlyphs" letter-spacing="1">database</text>
<text x="431.3" y="264.3" font-size="14.5" text-anchor="middle" textLength="69.8" lengthAdjust="spacingAndGlyphs" letter-spacing="1">management</text>
<text x="431.1" y="279.7" font-size="14.5" text-anchor="middle" textLength="38.3" lengthAdjust="spacingAndGlyphs" letter-spacing="1">system</text>
<g id="cyl">
<ellipse cx="667" cy="136" rx="8" ry="20" fill="#fffbe6" opacity="0.85" filter="url(#blurS)"/>
<path d="M550.2,156 L550.2,205.5 A58.3,27 0 0 0 666.8,206.5 L666.8,149.6 Z" fill="url(#cylSide)"/>
<g transform="rotate(-5 608.5 152.8)">
<ellipse cx="608.5" cy="152.8" rx="58.3" ry="34.9" fill="#d8eadc"/>
<ellipse cx="609.3" cy="151.0" rx="57.6" ry="33.2" fill="url(#cylTop)" filter="url(#blur07)"/>
<ellipse cx="608.5" cy="152.8" rx="58.3" ry="34.9" fill="none" stroke="#4a9a62" stroke-width="0.6"/>
</g>
</g>
<text x="612" y="254.8" font-size="14.5" text-anchor="middle" textLength="47.6" lengthAdjust="spacingAndGlyphs" letter-spacing="1">database</text>
<rect x="0.5" y="0.5" width="699" height="401" fill="none" stroke="#000" stroke-width="1"/>
</svg></body></html>
